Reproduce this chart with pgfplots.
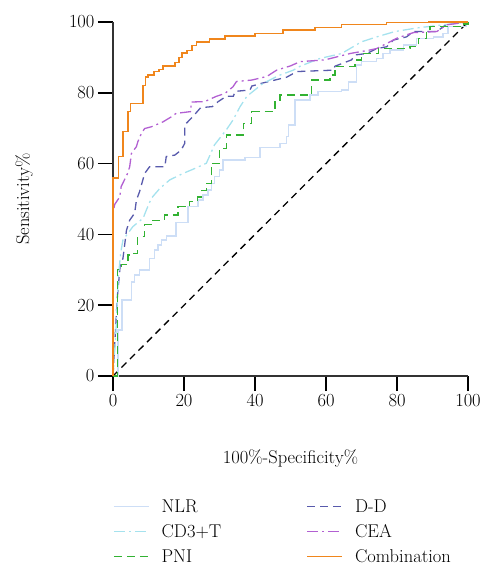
\documentclass[border=0pt]{standalone}
\usepackage{fontspec}
\usepackage{pgfplots}
\pgfplotsset{compat=1.18}
\definecolor{cNLR}{RGB}{205,222,246}
\definecolor{cCD}{RGB}{165,226,238}
\definecolor{cPNI}{RGB}{50,178,50}
\definecolor{cDD}{RGB}{88,90,172}
\definecolor{cCEA}{RGB}{178,96,210}
\definecolor{cCOM}{RGB}{240,134,28}
\begin{document}
\begin{tikzpicture}[font=\fontsize{18.5bp}{22bp}\selectfont]
\useasboundingbox (-113bp,-192bp) rectangle (376bp,376bp);
\begin{axis}[
  width=355bp, height=354bp, scale only axis,
  xmin=0, xmax=100, ymin=0, ymax=100,
  axis x line*=bottom, axis y line*=left,
  axis line style={-, line width=1.2bp, draw=black!80},
  xtick={0,20,...,100}, ytick={0,20,...,100},
  tick align=outside, major tick length=15bp,
  every tick/.style={black, line width=1.6bp},
  clip=false,
  /pgf/number format/assume math mode=true,
  xlabel={100\%-Specificity\%}, ylabel={Sensitivity\%},
  xlabel style={at={(axis description cs:0.5,-0.2316)}, anchor=center},
  ylabel style={at={(axis description cs:-0.2507,0.5)}, anchor=center},
  legend columns=2, legend cell align=left,
  legend style={at={(axis description cs:0,-0.343)}, anchor=north west,
    draw=none, fill=none, inner sep=0pt, row sep=6.5bp,
    /tikz/every even column/.append style={column sep=0pt},
    /tikz/every odd column/.append style={column sep=10bp}},
  legend image code/.code={\draw[#1] (0bp,0bp) -- (35bp,0bp);},
]
\addplot[black, line width=1.3bp, dash pattern=on 7bp off 5bp, forget plot] coordinates {(0,0) (100,100)};

\addplot[cNLR, line width=1.4bp, const plot] coordinates {
(0,0) (1.4,13) (2.5,21.5) (5.2,26.6) (6.1,28.5) (7.5,30) (10.3,33.2) (11.7,35.6) (12.7,37) (13.6,38.4) (15,39.5) (17.8,43.3) (21.1,47.8) (23.9,49.7) (25.4,51.1) (26.8,52.5) (27.7,54.4) (28.6,56.3) (30,58.2) (31,61) (37.2,61.8) (41.4,64.6) (47,65.7) (48.9,67.6) (49.5,70.9) (51.3,78) (55.5,79.4) (57.8,80.4) (64.4,80.8) (66.3,83) (68.6,87.9) (70,88.8) (74.3,89.7) (76.1,91.1) (78,92.1) (81.8,93.5) (85.5,95.4) (90.2,95.8) (93,96.8) (94.4,98.7) (99.6,100) (100,100)};
\addlegendentry{\makebox[143bp][l]{NLR}}

\addplot[cDD, line width=1.3bp, dash pattern=on 8bp off 5bp] coordinates {
(0,0) (1.2,22) (2,31) (2.8,33.2) (3.8,41.2) (4.7,44) (6.1,46) (6.6,49.7) (7.5,52.1) (8.9,57.2) (10.3,59.1) (14.6,59.1) (15,62) (17.4,62.4) (19.2,63.8) (20.2,65.7) (20.2,70.9) (22.5,73.3) (24.7,75.8) (28,76.1) (29.6,77.5) (31.9,79) (33.9,79) (34.4,80.4) (38.6,80.8) (39.1,81.9) (42.3,82.8) (48.9,84.4) (51.8,86) (62.1,86.4) (62.5,87.5) (67.2,89.3) (68.2,90.7) (71.5,91.1) (74.3,92.5) (77.1,93) (79,94.9) (82.7,95.8) (84.6,97.3) (91.2,97.3) (94,99.4) (100,100)};
\addlegendentry{D-D}

\addplot[cCD, line width=1.3bp, dash pattern=on 11bp off 4bp on 2bp off 4bp] coordinates {
(0,0) (0.8,12) (1.5,28) (2.2,35) (2.8,38.4) (5.6,42.2) (8.5,44.6) (9.4,46.9) (10.8,50.2) (13.2,53) (16,55.4) (19.7,57.2) (23,58.6) (26.3,60.1) (28.6,65.3) (31.9,69.5) (33.8,72.3) (35.8,76.1) (37.7,79) (42.3,82.7) (47,85) (50.8,86.4) (52.7,87.5) (58.3,89.7) (64.4,91.1) (70,94.4) (74.3,95.8) (79.4,97.3) (85.5,98.3) (93,99.2) (100,100)};
\addlegendentry{\makebox[143bp][l]{CD3+T}}

\addplot[cCEA, line width=1.3bp, dash pattern=on 11bp off 4bp on 2bp off 4bp] coordinates {
(0,0) (0,46) (0.5,48.5) (1.9,50.6) (2.3,53.5) (4,57) (4.7,59.1) (5.2,62.9) (6.6,64.8) (7,66.2) (8,68.5) (8.9,69.9) (10.8,70.4) (14.1,71.8) (16.4,73.2) (17.8,74.2) (22,74.7) (22,77.4) (25.8,77.5) (29.1,79) (31.5,79.8) (33.8,81.7) (34.8,83.2) (39.1,83.6) (43.3,84.6) (46.1,86.4) (50,87.6) (52.7,88.8) (59.7,89.3) (66.8,91.1) (72.4,92.1) (74.3,92.5) (78,94.4) (79.9,95.4) (84.6,97) (91.2,97.3) (94,99.2) (100,100)};
\addlegendentry{CEA}

\addplot[cPNI, line width=1.3bp, dash pattern=on 8bp off 5bp, const plot] coordinates {
(0,0) (1.2,30) (2.3,31.4) (4.2,34.2) (5.6,34.7) (7,39.4) (8.5,39.5) (8.9,42.7) (10.8,44) (14.6,45.5) (18.3,47.8) (21.6,49.3) (23.9,50.6) (24.9,52.5) (26.3,54.4) (27.7,60.1) (30,64.3) (31.9,68.1) (36.7,71.4) (39.1,74.7) (45.6,78) (47,79.4) (56,83.6) (61.1,85) (62.5,87.5) (68.2,89.3) (70,91.1) (74.7,92.5) (83.7,93) (86,95.4) (88.4,97.3) (89.3,98.7) (98.2,99.4) (100,100)};
\addlegendentry{\makebox[143bp][l]{PNI}}

\addplot[cCOM, line width=1.5bp, const plot] coordinates {
(0,0) (0,56) (1.5,62) (2.8,69) (4.2,74.7) (5,77) (8.5,82) (9.1,84.4) (9.9,85) (11.5,86) (12.9,86.6) (14.1,87.5) (17.4,88.5) (18.6,90) (19.4,91.2) (20.8,92) (22.3,93.3) (23.5,94.4) (27.2,95.2) (31.5,96) (40,96.8) (47.9,97.7) (56.9,98.5) (64.4,99.3) (77,99.8) (89,100) (100,100)};
\addlegendentry{Combination}
\end{axis}
\end{tikzpicture}
\end{document}
